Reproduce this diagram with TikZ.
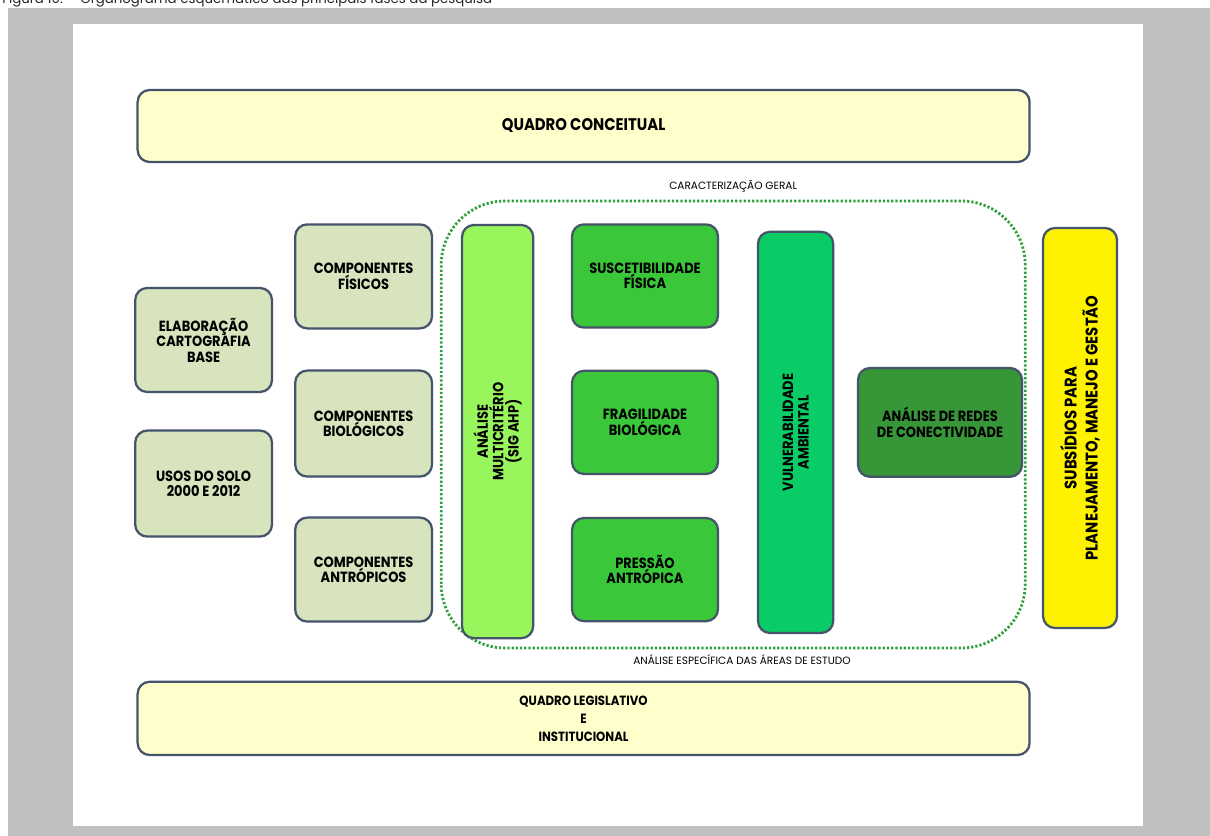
\documentclass[tikz,border=0pt]{standalone}
\usepackage{fontspec}
\setmainfont{Poppins}
\newfontfamily\boxfont{Poppins}[FakeStretch=0.88]

\definecolor{pagegray}{HTML}{C0C0C0}
\definecolor{edge}{HTML}{44546A}
\definecolor{cream}{HTML}{FFFFCC}
\definecolor{sage}{HTML}{D7E4BD}
\definecolor{lightgreen}{RGB}{152,245,92}
\definecolor{midgreen}{RGB}{58,200,58}
\definecolor{seagreen}{RGB}{10,204,102}
\definecolor{darkgreen}{RGB}{55,150,55}
\definecolor{dotgreen}{RGB}{50,160,60}

\begin{document}
\begin{tikzpicture}[scale=1,
  box/.style={draw=edge, line width=1.6pt, rounded corners=0.3cm, align=center,
    inner sep=0pt, font=\boxfont\bfseries\fontsize{10.5}{11}\selectfont},
  frame/.style={box, fill=cream, minimum width=22.3cm, minimum height=1.8cm},
  stepbox/.style={box, fill=sage, minimum width=3.42cm, minimum height=2.6cm},
  phase/.style={box, fill=midgreen, minimum width=3.65cm, minimum height=2.58cm},
  bar/.style={box, rotate=90},
  area/.style={draw=dotgreen, line width=2pt, dash pattern=on 1.6pt off 1.4pt,
    rounded corners=1.6cm},
  tag/.style={font=\fontsize{7.5}{9}\selectfont, inner sep=1pt}]

\useasboundingbox (0,0) rectangle (30.25,20.9);
\fill [white] (0,0) rectangle (30.25,20.9);
\fill [pagegray] (0.2,0) rectangle (30.25,20.7);
\fill [white] (1.825,0.25) rectangle (28.575,20.3);
\node [anchor=base west, inner sep=0pt, text=black!85, font=\fontsize{9.5}{11}\selectfont] (caption) at (0.05,20.8) {Figura 10. – Organograma esquemático das principais fases da pesquisa};

% quadros
\node [frame, font=\boxfont\bfseries\fontsize{12}{14}\selectfont] (conceitual) at (14.59,17.75) {QUADRO CONCEITUAL};
\node [frame, minimum height=1.83cm, font=\boxfont\bfseries\fontsize{9.5}{12.8}\selectfont] (legislativo) at (14.59,2.94) {QUADRO LEGISLATIVO\\E\\INSTITUCIONAL};

% area de estudo
\draw [area] (11.03,4.7) rectangle (25.63,15.875);
\node [tag] (geral) at (18.33,16.25) {CARACTERIZAÇÃO GERAL};
\node [tag] (especifica) at (18.55,4.4) {ANÁLISE ESPECÍFICA DAS ÁREAS DE ESTUDO};

% entradas
\node [stepbox] (elaboracao) at (5.09,12.4) {ELABORAÇÃO\\CARTOGRAFIA\\BASE};
\node [stepbox, minimum height=2.65cm] (usos) at (5.09,8.81) {USOS DO SOLO\\2000 E 2012};
\node [stepbox] (fisicos) at (9.09,13.99) {COMPONENTES\\FÍSICOS};
\node [stepbox, minimum height=2.65cm] (biologicos) at (9.09,10.31) {COMPONENTES\\BIOLÓGICOS};
\node [stepbox] (antropicos) at (9.09,6.66) {COMPONENTES\\ANTRÓPICOS};

% analise
\node [bar, fill=lightgreen, minimum width=10.33cm, minimum height=1.78cm] (multicriterio) at (12.44,10.11) {ANÁLISE\\MULTICRITÉRIO\\(SIG AHP)};
\node [phase] (suscetibilidade) at (16.125,14.0) {SUSCETIBILIDADE\\FÍSICA};
\node [phase] (fragilidade) at (16.125,10.34) {FRAGILIDADE\\BIOLÓGICA};
\node [phase] (pressao) at (16.125,6.66) {PRESSÃO\\ANTRÓPICA};
\node [bar, fill=seagreen, minimum width=10.03cm, minimum height=1.88cm] (vulnerabilidade) at (19.89,10.09) {VULNERABILIDADE\\AMBIENTAL};
\node [box, fill=darkgreen, minimum width=4.1cm, minimum height=2.72cm] (redes) at (23.5,10.34) {ANÁLISE DE REDES\\DE CONECTIVIDADE};

% saida
\node [bar, fill=yellow, minimum width=10cm, minimum height=1.85cm, font=\boxfont\bfseries\fontsize{12}{15}\selectfont] (subsidios) at (27.0,10.2) {SUBSÍDIOS PARA\\PLANEJAMENTO, MANEJO E GESTÃO};
\end{tikzpicture}
\end{document}
